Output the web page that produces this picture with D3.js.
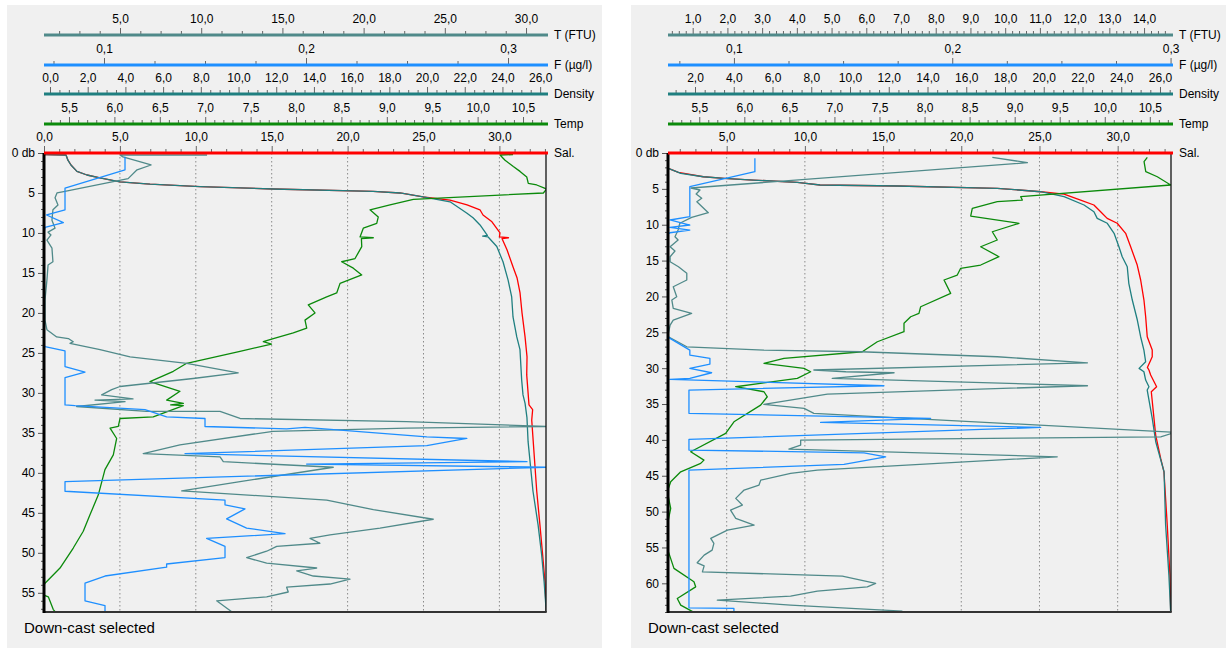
<!DOCTYPE html>
<html><head><meta charset="utf-8">
<script src="https://cdn.jsdelivr.net/npm/d3@7"></script>
<style>body{margin:0;background:#fff;} text{font-family:"Liberation Sans",Arial,sans-serif;}</style>
</head><body><svg id="c" width="1228" height="648"></svg>
<script>
// ---------- DATA: [depth (db), value] ----------
const leftSal = [[0.2,0],[0.25,1.45],[0.9,1.58],[1.5,1.78],[2.3,2.17],[2.75,2.83],[3.1,3.69],[3.6,5.0],[3.9,6.98],[4.2,10.28],[4.5,15.09],[4.8,21.67],[5.0,23.45],[5.5,24.97],[5.9,26.75],[6.5,27.87],[7.1,28.72],[7.75,28.92],[8.6,29.51],[10,30.04],[10.5,30.0],[10.6,30.6],[10.7,30.17],[12.1,30.5],[14.25,30.9],[15.6,31.16],[17.5,31.36],[20,31.49],[23,31.69],[25.5,31.82],[27.75,31.8],[30.25,31.9],[31.5,31.95],[32.1,32.19],[33.4,32.13],[36.1,32.23],[42.3,32.46],[46.5,32.67],[50.25,32.85],[53.6,33.0],[56.9,33.07],[57.4,33.07]];
const leftDens = [[0.2,-0.3],[0.25,0.85],[0.9,0.95],[1.5,1.11],[2.3,1.43],[2.75,1.96],[3.1,2.65],[3.6,3.71],[3.9,5.31],[4.2,7.96],[4.5,11.83],[4.8,17.14],[5.0,18.57],[5.5,19.79],[6.1,21.22],[7.5,22.1],[8.1,22.44],[9,22.81],[10.3,23.2],[10.4,22.95],[10.5,23.24],[11.7,23.7],[13.6,24.03],[15.9,24.3],[18,24.49],[20.5,24.56],[23,24.76],[24.6,24.93],[28.4,25.02],[30.25,25.09],[31.3,25.2],[33.1,25.3],[36.1,25.36],[42.3,25.62],[46.5,25.89],[50.25,26.08],[53.6,26.21],[56.9,26.31],[57.4,26.31]];
const leftTurb = [[0.25,10.36],[0.25,5.0],[0.5,5.18],[1.5,6.91],[2.1,6.05],[3.2,5.5],[4.8,1.61],[5.0,1.12],[5.6,1.0],[6.5,1.18],[7.1,0.87],[8.4,0.81],[9.4,1.0],[9.9,0.57],[10.25,0.75],[10.9,0.5],[11.9,0.81],[13.6,0.87],[14,0.57],[15.9,0.5],[18.4,0.38],[20.9,0.38],[22.1,0.5],[23,1.1],[23.2,1.82],[23.6,2.12],[23.8,1.92],[24.6,3.77],[25.5,5.62],[26.3,9.11],[27.5,12.28],[28.2,9.5],[29.2,5.0],[29.6,4.49],[30.25,3.87],[30.75,5.8],[30.9,3.46],[31.1,5.31],[31.7,2.33],[32.3,6.64],[32.3,11.16],[33.2,12.39],[33.6,22.65],[34.2,31.5],[34.4,22.65],[34.8,14.42],[36.5,8.69],[37.6,6.43],[38.0,11.16],[38.6,11.36],[39.3,18.13],[41.1,12.39],[42.25,8.8],[43.4,17.73],[44.6,20.6],[45.8,24.29],[46.9,21.01],[47.75,17.93],[48.2,16.7],[48.8,17.31],[49.2,14.65],[49.8,14.03],[50.6,12.8],[51.3,14.03],[51.9,17.11],[52.25,15.88],[52.9,16.9],[53.3,19.16],[53.9,17.93],[54.3,15.26],[54.9,15.36],[55.5,14.03],[56.0,10.95],[57.4,11.9]];
const leftFluor = [[0.46,0.1104],[2.1,0.1104],[4.4,0.0807],[7.1,0.0807],[7.75,0.0716],[8.7,0.0799],[9.3,0.0708],[10,0.0703],[24,0.0703],[24.2,0.0708],[24.75,0.0807],[26.7,0.0807],[27.4,0.0906],[28.1,0.0807],[31.5,0.0807],[31.6,0.0856],[32.1,0.1203],[33,0.131],[33.2,0.15],[34.2,0.15],[34.5,0.1904],[34.3,0.1995],[35.5,0.2598],[35.7,0.2796],[36.6,0.2598],[37.6,0.1401],[38.6,0.3094],[38.9,0.2003],[39.3,0.3192],[41.1,0.0807],[42.3,0.0807],[43.4,0.1599],[44,0.1599],[44.5,0.1698],[45.75,0.1607],[46.9,0.1706],[47.6,0.1896],[48.2,0.1508],[49.2,0.1599],[50.6,0.1599],[51.4,0.131],[51.8,0.131],[52.9,0.1005],[53.8,0.0906],[56,0.0906],[56.6,0.1005],[57.4,0.1005]];
const leftTemp = [[0.2,10.39],[0.25,10.247],[0.9,10.302],[1.7,10.393],[2.3,10.467],[3.0,10.541],[3.8,10.558],[4.0,10.651],[4.5,10.761],[5.0,10.724],[5.8,9.292],[6.5,9.035],[7.1,8.815],[8.0,8.906],[8.8,8.889],[9.4,8.741],[10.5,8.705],[10.6,8.851],[10.7,8.72],[11.7,8.724],[13.2,8.65],[13.6,8.503],[14.4,8.631],[15.25,8.724],[16.3,8.485],[17.5,8.448],[18,8.338],[19,8.135],[20,8.209],[20.9,8.099],[21.9,8.118],[22.5,7.97],[23.2,7.75],[23.6,7.64],[23.9,7.73],[24.8,7.383],[26.3,6.796],[27.3,6.649],[28.6,6.392],[29.8,6.722],[30.9,6.576],[31.3,6.76],[31.5,6.62],[31.6,6.759],[33,6.428],[33.2,6.062],[34.2,6.043],[34.4,5.952],[35.7,6.025],[37.75,5.988],[39.6,5.896],[42.75,5.823],[45.25,5.731],[47.3,5.657],[49.4,5.547],[51.9,5.401],[53.8,5.236],[54,5.225],[55.3,5.225],[55.5,5.272],[57.1,5.327],[57.4,5.35]];

const rightSal = [[1.0,1.25],[2.13,1.27],[2.69,1.91],[3.31,3.5],[3.53,4.83],[3.77,6.7],[4.09,9.51],[4.46,10.97],[4.6,15.91],[4.92,22.3],[5.4,25.08],[5.72,26.57],[6.56,27.63],[7.25,28.48],[8.19,28.91],[9.11,29.33],[9.8,29.97],[11.2,30.51],[13.07,30.83],[15.62,31.25],[17.71,31.47],[20.5,31.68],[22.83,31.79],[25.62,31.89],[27.48,32.21],[28.41,32.21],[29.9,31.9],[30.26,32.0],[30.96,32.11],[32.59,32.49],[33.29,32.15],[39.33,32.43],[42.58,32.75],[44.45,32.96],[51.88,33.17],[58.86,33.34],[64,33.39]];
const rightDens = [[1.0,0.606],[2.13,0.62],[2.69,1.14],[2.83,1.26],[3.31,2.43],[3.53,3.5],[3.77,5.01],[4.09,7.28],[4.46,8.45],[4.6,12.44],[4.92,17.6],[5.4,19.84],[6.09,21.05],[7.25,22.08],[8.19,22.59],[9.11,22.76],[9.8,23.28],[11.2,23.63],[13.07,23.88],[14.46,24.05],[15.86,24.31],[18.17,24.39],[20.5,24.57],[23.29,24.83],[25.62,25.0],[27.48,25.17],[29.11,25.26],[30.03,24.92],[30.5,25.17],[31.66,25.26],[32.59,25.43],[33.05,25.34],[37.0,25.6],[40.26,25.78],[44.45,26.21],[51.88,26.29],[58.86,26.46],[64,26.55]];
const rightTurb = [[0.6,9.63],[1.35,10.64],[4.88,0.95],[5.16,1.21],[5.72,1.1],[6.32,1.26],[6.79,1.12],[8.33,1.45],[8.97,0.97],[9.8,0.63],[10.74,0.58],[11.67,0.49],[12.13,0.58],[13.07,0.35],[13.67,0.49],[14.46,0.35],[15.16,0.35],[15.86,0.59],[16.78,0.83],[17.71,0.83],[18.65,0.44],[20.04,0.54],[20.5,0.4],[21.66,0.44],[22.36,0.97],[23.29,0.44],[23.99,0.35],[25.15,0.3],[25.62,0.3],[27.02,0.83],[27.48,3.05],[27.71,5.84],[28.41,9.77],[29.25,12.37],[30.26,4.49],[30.5,5.41],[30.64,6.8],[31.42,5.02],[32.45,12.37],[33.61,4.88],[35.05,3.05],[35.61,4.21],[36.3,4.49],[38.95,14.9],[39.57,14.48],[40.03,4.11],[40.73,4.11],[41.28,3.77],[42.36,11.5],[44.21,4.59],[44.67,3.82],[45.61,2.96],[46.3,2.91],[47.0,2.48],[48.16,2.24],[49.09,2.43],[49.79,2.09],[50.95,2.24],[51.88,2.77],[52.58,2.0],[53.74,1.52],[54.43,1.61],[55.37,1.56],[56.07,1.33],[57.14,1.13],[57.56,1.33],[58.4,1.28],[59.0,5.31],[60.01,6.27],[60.49,6.03],[61.09,4.59],[61.79,3.82],[62.34,1.71],[63.04,3.82],[63.88,7.04]];
const rightFluor = [[0.74,0.1096],[2.61,0.1096],[4.7,0.0798],[8.88,0.0798],[9.34,0.0707],[10.04,0.0798],[10.36,0.0707],[10.74,0.0798],[11.12,0.0707],[11.3,0.0698],[25.6,0.0698],[25.84,0.0707],[27.48,0.0798],[28.17,0.0798],[28.63,0.089],[29.43,0.089],[30.03,0.0798],[30.64,0.0898],[31.42,0.0798],[31.56,0.0707],[32.45,0.1687],[33.05,0.0794],[36.3,0.0794],[37.0,0.1901],[37.56,0.1397],[38.26,0.2405],[39.93,0.0794],[41.42,0.0794],[41.8,0.1596],[42.36,0.1695],[43.42,0.1504],[44.21,0.0794],[63.42,0.0794],[63.5,0.1],[64.0,0.1]];
const rightTemp = [[0.6,10.472],[1.21,10.436],[2.61,10.455],[3.31,10.583],[4.46,10.732],[6.09,9.067],[6.56,9.085],[6.79,8.807],[7.71,8.53],[8.79,8.512],[9.8,9.048],[10.98,8.752],[12.13,8.807],[13.07,8.623],[14.46,8.826],[15.62,8.623],[16.08,8.401],[17.02,8.363],[17.71,8.216],[19.57,8.29],[21.44,7.957],[22.36,7.938],[22.83,7.846],[23.75,7.772],[24.92,7.772],[26.32,7.476],[27.71,7.309],[28.63,6.44],[29.33,6.218],[30.03,6.662],[30.5,6.736],[31.42,6.588],[32.59,5.904],[33.29,6.218],[33.99,6.255],[35.15,6.181],[37.48,5.885],[39.09,5.793],[41.66,5.405],[42.82,5.552],[43.28,5.516],[44.45,5.294],[45.84,5.183],[47.24,5.145],[49.55,5.183],[51.88,5.145],[55.13,5.145],[57.92,5.219],[59.79,5.441],[60.49,5.46],[62.11,5.256],[63.04,5.294],[64.06,5.441]];

// ---------- TICKS ----------
const leftTTicks = [5,10,15,20,25,30];
const rightTTicks = [1,2,3,4,5,6,7,8,9,10,11,12,13,14];
const fTicks = [0.1,0.2,0.3];
const leftDensTicks = [0,2,4,6,8,10,12,14,16,18,20,22,24,26];
const rightDensTicks = [2,4,6,8,10,12,14,16,18,20,22,24,26];
const tempTicks = [5.5,6,6.5,7,7.5,8,8.5,9,9.5,10,10.5];
const leftSalTicks = [0,5,10,15,20,25,30];
const rightSalTicks = [5,10,15,20,25,30];
const leftDepthTicks = [0,5,10,15,20,25,30,35,40,45,50,55];
const rightDepthTicks = [0,5,10,15,20,25,30,35,40,45,50,55,60];
const axisNames = ["T (FTU)","F (µg/l)","Density","Temp","Sal."];
const footer = "Down-cast selected";

// ---------- STYLE ----------
const C = {T:"#508a8a", F:"#1e8fff", D:"#1f7f80", Tp:"#0b8a0b", S:"#ff0000"};
const TOP = 153, BOT = 612;

const panels = [
  {bgX:7, bgW:595, x0:44, x1:546, depthMax:57.4, depthTicks:leftDepthTicks, footX:24,
   dom:{T:[0.32,31.23], F:[0.0703,0.3188], D:[-0.318,26.31], Tp:[5.2247,10.753], S:[0,33.07]},
   ticks:{T:[leftTTicks,1.25], F:[fTicks,0.025], D:[leftDensTicks,0.5], Tp:[tempTicks,0.1], S:[leftSalTicks,1]},
   series:{T:leftTurb, F:leftFluor, D:leftDens, Tp:leftTemp, S:leftSal}},
  {bgX:631, bgW:595, x0:668, x1:1171, depthMax:64.0, depthTicks:rightDepthTicks, footX:648,
   dom:{T:[0.289,14.776], F:[0.0698,0.3002], D:[0.606,26.568], Tp:[5.153,10.735], S:[1.247,33.41]},
   ticks:{T:[rightTTicks,0.2], F:[fTicks,0.025], D:[rightDensTicks,0.5], Tp:[tempTicks,0.1], S:[rightSalTicks,1]},
   series:{T:rightTurb, F:rightFluor, D:rightDens, Tp:rightTemp, S:rightSal}}
];
const rows = [
  {key:"T", y:35}, {key:"F", y:65}, {key:"D", y:94}, {key:"Tp", y:124}, {key:"S", y:153}
];

const fmt1 = d => d3.format(".1f")(d).replace(".", ",");
function minors(dom, step, majors){
  const out=[]; const s=Math.ceil(dom[0]/step-1e-9);
  for(let k=s; k*step<=dom[1]+1e-9; k++){
    const v=+(k*step).toFixed(6);
    if(!majors.some(m=>Math.abs(m-v)<1e-6)) out.push(v);
  }
  return out;
}

const svg = d3.select("#c");
panels.forEach((p,pi) => {
  const g = svg.append("g");
  g.append("rect").attr("x",p.bgX).attr("y",5).attr("width",p.bgW).attr("height",643).attr("fill","#f0f0f0");
  const y = d3.scaleLinear().domain([0,p.depthMax]).range([TOP,BOT]);
  const xs = {};
  for (const k in p.dom) xs[k] = d3.scaleLinear().domain(p.dom[k]).range([p.x0,p.x1]);

  // gridlines
  g.selectAll("line.grid").data(p.ticks.S[0].filter(v=>xs.S(v)>p.x0+2)).join("line")
    .attr("x1",d=>xs.S(d)).attr("x2",d=>xs.S(d)).attr("y1",TOP).attr("y2",BOT)
    .attr("stroke","#8a8a8a").attr("stroke-width",1).attr("stroke-dasharray","1.5,2.5");

  // clip
  const cid = "clip"+pi;
  svg.append("clipPath").attr("id",cid).append("rect")
    .attr("x",p.x0).attr("y",TOP).attr("width",p.x1-p.x0).attr("height",BOT-TOP);
  const plot = g.append("g").attr("clip-path",`url(#${cid})`);
  ["S","D","Tp","T","F"].forEach(k => {
    const line = d3.line().x(d=>xs[k](d[1])).y(d=>y(d[0]));
    plot.append("path").attr("d",line(p.series[k])).attr("fill","none")
      .attr("stroke",C[k]).attr("stroke-width",1.3).attr("stroke-linejoin","round");
  });

  // borders
  g.append("line").attr("x1",p.x1).attr("x2",p.x1).attr("y1",TOP).attr("y2",BOT).attr("stroke","#111").attr("stroke-width",1.3);
  g.append("line").attr("x1",p.x0).attr("x2",p.x1+0.7).attr("y1",BOT).attr("y2",BOT).attr("stroke","#333").attr("stroke-width",2);

  // y axis
  const ya = g.append("g").attr("transform",`translate(${p.x0},0)`);
  ya.call(d3.axisLeft(y).tickValues(minors([0,p.depthMax],1,p.depthTicks)).tickSize(3).tickFormat(""));
  ya.call(g2=>g2.select(".domain").remove());
  const yb = g.append("g").attr("transform",`translate(${p.x0},0)`);
  yb.call(d3.axisLeft(y).tickValues(p.depthTicks).tickSize(6).tickPadding(3).tickFormat(d=>d===0?"0 db":d));
  yb.select(".domain").remove();
  [ya,yb].forEach(a=>{a.selectAll(".tick line").attr("stroke","#555");
    a.selectAll(".tick text").attr("font-size",12).attr("fill","#000").attr("font-family","Liberation Sans, Arial, sans-serif");});
  g.append("line").attr("x1",p.x0).attr("x2",p.x0).attr("y1",TOP).attr("y2",BOT+1).attr("stroke","#000").attr("stroke-width",3);

  // top axes
  rows.forEach((r,ri) => {
    const sc = xs[r.key];
    const [maj, step] = p.ticks[r.key];
    const mn = g.append("g").attr("transform",`translate(0,${r.y})`)
      .call(d3.axisTop(sc).tickValues(minors(p.dom[r.key],step,maj)).tickSize(4).tickFormat(""));
    mn.select(".domain").remove();
    const mj = g.append("g").attr("transform",`translate(0,${r.y})`)
      .call(d3.axisTop(sc).tickValues(maj.filter(v=>v>=p.dom[r.key][0]-1e-9 && v<=p.dom[r.key][1]+1e-9)).tickSize(7).tickPadding(5).tickFormat(fmt1));
    mj.select(".domain").remove();
    [mn,mj].forEach(a=>{a.selectAll(".tick line").attr("stroke","#666");
      a.selectAll(".tick text").attr("font-size",12).attr("fill","#000").attr("font-family","Liberation Sans, Arial, sans-serif");});
    g.append("line").attr("x1",p.x0).attr("x2",p.x1+2).attr("y1",r.y).attr("y2",r.y)
      .attr("stroke",C[r.key]).attr("stroke-width",3);
    g.append("text").attr("x",p.x1+8).attr("y",r.y).attr("dy","0.35em")
      .attr("font-size",12).attr("fill","#000").text(axisNames[ri]);
  });

  g.append("text").attr("x",p.footX).attr("y",633).attr("font-size",15).attr("fill","#000").text(footer);
});
</script></body></html>
